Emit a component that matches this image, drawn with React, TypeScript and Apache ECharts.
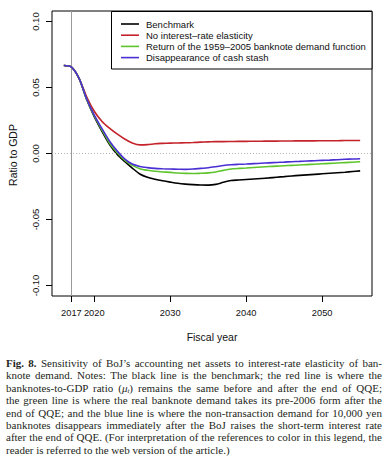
import React, { useEffect, useRef } from "react";
import * as echarts from "echarts";

const years = [
  2016, 2017, 2018, 2019, 2020, 2021, 2022, 2023, 2024, 2025,
  2026, 2027, 2028, 2029, 2030, 2031, 2032, 2033, 2034, 2035,
  2036, 2037, 2038, 2039, 2040, 2041, 2042, 2043, 2044, 2045,
  2046, 2047, 2048, 2049, 2050, 2051, 2052, 2053, 2054, 2055,
];

const benchmark = [
  0.0667, 0.0655, 0.057, 0.041, 0.028, 0.017, 0.007, -0.0005, -0.006, -0.011,
  -0.0155, -0.018, -0.0195, -0.0207, -0.0217, -0.0226, -0.0232, -0.0236, -0.0239, -0.024,
  -0.0234, -0.0218, -0.0205, -0.0201, -0.0197, -0.0193, -0.0189, -0.0185, -0.018, -0.0175,
  -0.017, -0.0166, -0.0162, -0.0158, -0.0154, -0.015, -0.0146, -0.0142, -0.0137, -0.0132,
];

const noElasticity = [
  0.0667, 0.0655, 0.057, 0.043, 0.032, 0.0245, 0.0192, 0.0148, 0.011, 0.008,
  0.0065, 0.0067, 0.0074, 0.0077, 0.0079, 0.008, 0.0081, 0.0083, 0.0086, 0.0088,
  0.009, 0.009, 0.0091, 0.0092, 0.0092, 0.0093, 0.0093, 0.0094, 0.0094, 0.0095,
  0.0095, 0.0096, 0.0096, 0.0096, 0.0097, 0.0097, 0.0097, 0.0098, 0.0098, 0.0098,
];

const returnOld = [
  0.0667, 0.0655, 0.057, 0.0412, 0.0285, 0.018, 0.008, 0.0008, -0.005, -0.009,
  -0.0115, -0.0127, -0.0135, -0.014, -0.0143, -0.0148, -0.0151, -0.0152, -0.015, -0.0147,
  -0.014, -0.0128, -0.0118, -0.0113, -0.011, -0.0106, -0.0102, -0.0099, -0.0096, -0.0093,
  -0.009, -0.0087, -0.0084, -0.0081, -0.0078, -0.0075, -0.0072, -0.0069, -0.0066, -0.0063,
];

const cashStash = [
  0.0667, 0.0655, 0.057, 0.0415, 0.029, 0.019, 0.0095, 0.002, -0.004, -0.008,
  -0.0098, -0.0107, -0.0113, -0.0116, -0.0118, -0.0119, -0.012, -0.0118, -0.0113, -0.0108,
  -0.01, -0.0091, -0.0085, -0.0082, -0.008, -0.0077, -0.0074, -0.0071, -0.0068, -0.0065,
  -0.0062, -0.006, -0.0057, -0.0055, -0.0052, -0.005, -0.0047, -0.0044, -0.0042, -0.004,
];

const seriesNames = [
  "Benchmark",
  "No interest\u2013rate elasticity",
  "Return of the 1959\u20132005 banknote demand function",
  "Disappearance of cash stash",
];
const seriesColors = ["#000000", "#c4232b", "#5ec42c", "#4a2fd2"];
const xTicks = [2017, 2020, 2030, 2040, 2050];
const yTicks = [-0.1, -0.05, 0, 0.05, 0.1];
const yTickLabels = ["-0.10", "-0.05", "0.00", "0.05", "0.10"];

const captionLines = [
  "Sensitivity of BoJ\u2019s accounting net assets to interest-rate elasticity of ban-",
  "knote demand. Notes: The black line is the benchmark; the red line is where the",
  "banknotes-to-GDP ratio (",
  "the green line is where the real banknote demand takes its pre-2006 form after the",
  "end of QQE; and the blue line is where the non-transaction demand for 10,000 yen",
  "banknotes disappears immediately after the BoJ raises the short-term interest rate",
  "after the end of QQE. (For interpretation of the references to color in this legend, the",
  "reader is referred to the web version of the article.)",
];

const font = "Liberation Sans, Arial, Helvetica, sans-serif";

function Chart() {
  const ref = useRef<HTMLDivElement>(null);
  useEffect(() => {
    if (!ref.current) return;
    const chart = echarts.init(ref.current, null, { renderer: "svg" });
    const allSeries = [benchmark, noElasticity, returnOld, cashStash];
    const series: any[] = allSeries.map((vals, i) => ({
      name: seriesNames[i],
      type: "line",
      data: years.map((y, j) => [y, vals[j]]),
      showSymbol: false,
      smooth: 0.3,
      lineStyle: { color: seriesColors[i], width: 1.6 },
      itemStyle: { color: seriesColors[i] },
      z: 3 + i,
    }));
    series.push({
      type: "line",
      data: [],
      silent: true,
      markLine: {
        silent: true,
        symbol: "none",
        label: { show: false },
        data: [
          { xAxis: 2017, lineStyle: { color: "#9a9a9a", width: 1, type: "solid" } },
          { yAxis: 0, lineStyle: { color: "#b5b5b5", width: 1, type: [1, 2] } },
        ],
      },
      z: 1,
    });

    const legendX = 111.5;
    const legendY = 11.5;
    const legendChildren: any[] = [
      {
        type: "rect",
        shape: { x: legendX, y: legendY, width: 260.5, height: 57.5 },
        style: { fill: "#ffffff", stroke: "#000000", lineWidth: 1 },
      },
    ];
    seriesNames.forEach((n, i) => {
      const cy = 24 + i * 11.2;
      legendChildren.push({
        type: "line",
        shape: { x1: 121, y1: cy, x2: 139, y2: cy },
        style: { stroke: seriesColors[i], lineWidth: 1.6 },
      });
      legendChildren.push({
        type: "text",
        x: 146,
        y: cy,
        style: {
          text: n,
          font: `9.5px ${font}`,
          fill: "#111111",
          textAlign: "left",
          textVerticalAlign: "middle",
        },
      });
    });

    chart.setOption({
      animation: false,
      backgroundColor: "#ffffff",
      grid: {
        left: 52,
        right: 14,
        top: 11,
        bottom: 345 - 296,
        show: true,
        borderColor: "#000000",
        borderWidth: 1,
        backgroundColor: "transparent",
      },
      xAxis: {
        type: "value",
        min: 2014.44,
        max: 2056.56,
        splitLine: { show: false },
        axisLine: { show: false, onZero: false },
        axisTick: { show: true, length: 6, customValues: xTicks, lineStyle: { color: "#000" } },
        axisLabel: {
          customValues: xTicks,
          formatter: (v: number) => String(v),
          fontFamily: font,
          fontSize: 9.3,
          color: "#111",
          margin: 12,
        },
      },
      yAxis: {
        type: "value",
        min: -0.108,
        max: 0.108,
        splitLine: { show: false },
        axisLine: { show: false, onZero: false },
        axisTick: { show: true, length: 6, customValues: yTicks, lineStyle: { color: "#000" } },
        axisLabel: {
          customValues: yTicks,
          rotate: 90,
          formatter: (v: number) => {
            const idx = yTicks.findIndex((t) => Math.abs(t - v) < 1e-9);
            return idx >= 0 ? yTickLabels[idx] : "";
          },
          fontFamily: font,
          fontSize: 9.5,
          color: "#111",
          margin: 12,
        },
      },
      graphic: [
        {
          type: "text",
          x: 13,
          y: 155,
          rotation: Math.PI / 2,
          style: {
            text: "Ratio to GDP",
            font: `10.5px ${font}`,
            fill: "#111",
            textAlign: "center",
            textVerticalAlign: "middle",
          },
        },
        {
          type: "text",
          x: 212,
          y: 337,
          style: {
            text: "Fiscal year",
            font: `10.5px ${font}`,
            fill: "#111",
            textAlign: "center",
            textVerticalAlign: "middle",
          },
        },
        { type: "group", z: 100, children: legendChildren },
      ],
      series,
    });
    return () => chart.dispose();
  }, []);
  return <div ref={ref} style={{ width: 386, height: 345 }} />;
}

export default function App() {
  const lineStyle: React.CSSProperties = {
    height: 12.4,
    lineHeight: "12.4px",
    whiteSpace: "nowrap",
    textAlign: "justify",
    textAlignLast: "justify" as any,
  };
  return (
    <div
      style={{
        position: "absolute",
        left: 0,
        top: 0,
        width: 386,
        height: 473,
        background: "#fff",
        overflow: "hidden",
      }}
    >
      <Chart />
      <div
        style={{
          position: "absolute",
          left: 6,
          top: 357,
          width: 376,
          fontFamily: "'Liberation Serif', 'DejaVu Serif', serif",
          fontSize: 11,
          color: "#231f20",
        }}
      >
        <div style={lineStyle}>
          <b>Fig. 8.</b> {captionLines[0]}
        </div>
        <div style={lineStyle}>{captionLines[1]}</div>
        <div style={lineStyle}>
          {captionLines[2]}
          <i>&mu;</i>
          <span style={{ fontSize: 7, position: "relative", top: 1, lineHeight: "7px" }}>
            <i>t</i>
          </span>
          ) remains the same before and after the end of QQE;
        </div>
        <div style={lineStyle}>{captionLines[3]}</div>
        <div style={lineStyle}>{captionLines[4]}</div>
        <div style={lineStyle}>{captionLines[5]}</div>
        <div style={lineStyle}>{captionLines[6]}</div>
        <div style={{ ...lineStyle, textAlign: "left", textAlignLast: "left" as any }}>
          {captionLines[7]}
        </div>
      </div>
    </div>
  );
}
